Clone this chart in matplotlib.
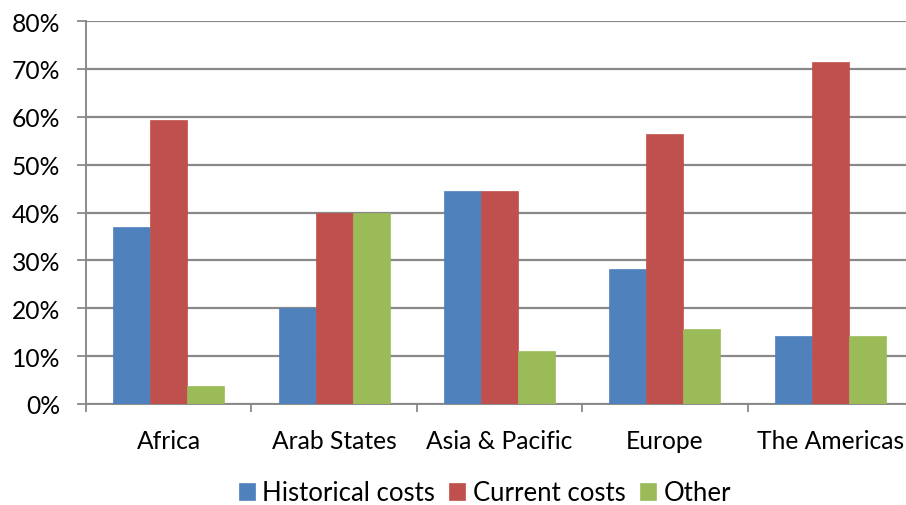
import matplotlib
matplotlib.use("Agg")
import matplotlib.pyplot as plt
import numpy as np

categories = ["Africa", "Arab States", "Asia & Pacific", "Europe", "The Americas"]
historical = [37.0, 20.0, 44.5, 28.2, 14.3]
current = [59.3, 40.0, 44.5, 56.4, 71.4]
other = [3.7, 40.0, 11.1, 15.7, 14.3]
series_names = ["Historical costs", "Current costs", "Other"]
colors = ["#4F81BD", "#C0504D", "#9BBB59"]

plt.rcParams['font.family'] = ['Lato', 'DejaVu Sans']
FS = 17.7
LFS = 18.5

fig = plt.figure(figsize=(9.06, 5.06), dpi=100)
ax = fig.add_axes([86/906, 1-405/506, 827/906, 383/506])

x = np.arange(len(categories))
w = 0.224
for i, (vals, name, c) in enumerate(zip([historical, current, other], series_names, colors)):
    ax.bar(x + (i - 1) * w, vals, width=w, color=c, label=name, zorder=3,
           edgecolor=c, linewidth=0.5)

gc = "#898989"
ax.set_xlim(-0.5, len(categories) - 0.5)
ax.set_ylim(0, 80)
ax.set_yticks(np.arange(0, 81, 10))
ax.set_yticklabels([f"{v}%" for v in range(0, 81, 10)], fontsize=FS)
ax.yaxis.grid(True, color=gc, linewidth=1.6, zorder=0)
ax.set_axisbelow(True)
ax.set_xticks(x)
ax.set_xticklabels(categories, fontsize=FS)
ax.tick_params(axis='x', length=0, pad=18)
ax.set_xticks(np.arange(-0.5, len(categories), 1), minor=True)
ax.tick_params(axis='x', which='minor', length=6, width=1.3, color=gc, direction='out')
ax.tick_params(axis='y', length=6.5, width=1.3, color=gc, pad=12)
for s in ['top', 'right']:
    ax.spines[s].set_visible(False)
for s in ['left', 'bottom']:
    ax.spines[s].set_color(gc)
    ax.spines[s].set_linewidth(1.4)
ax.set_facecolor("none")

leg = fig.legend(loc='center', bbox_to_anchor=(485/906, 1-494/506), ncol=3, frameon=False,
                 fontsize=LFS, handlelength=0.62, handleheight=0.62, handletextpad=0.3,
                 columnspacing=0.55, borderaxespad=0)

fig.savefig("out.png", dpi=100)
